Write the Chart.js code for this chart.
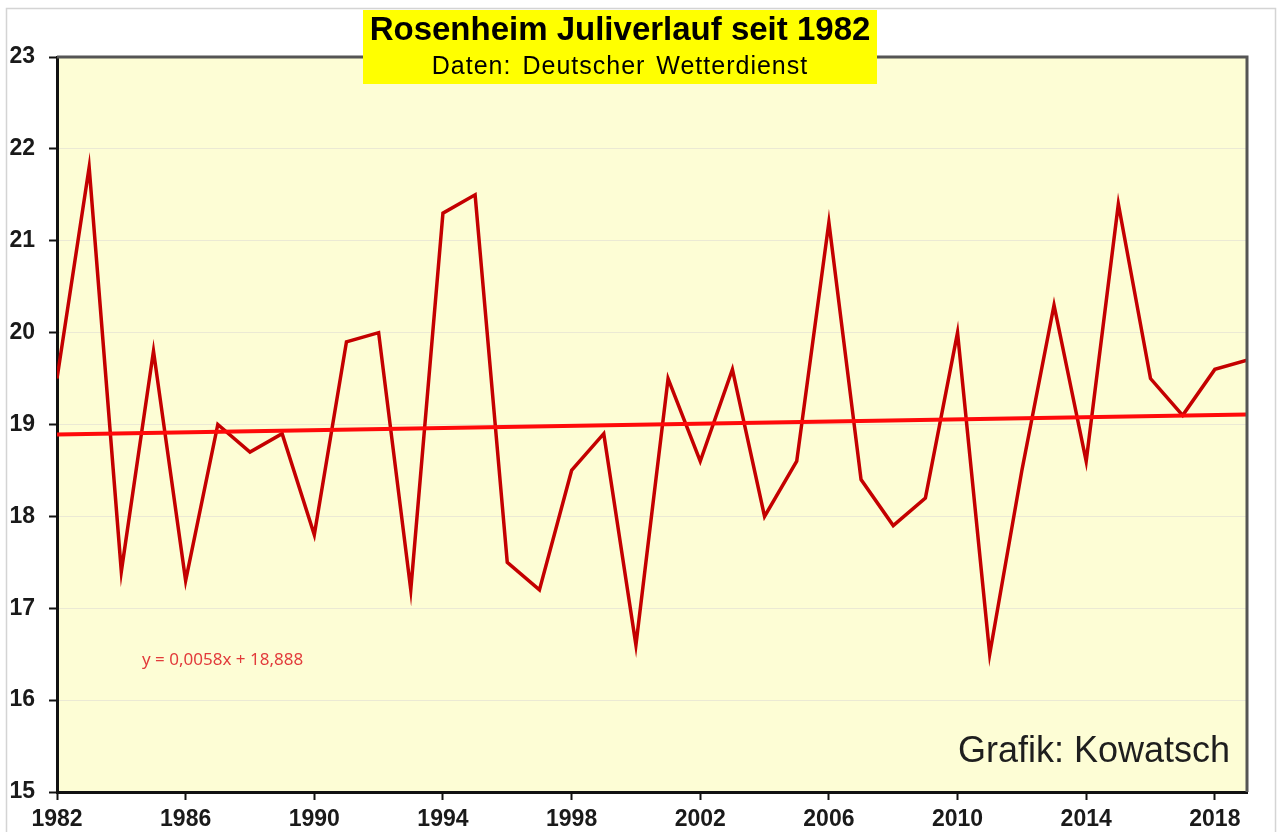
<!DOCTYPE html>
<html>
<head>
<meta charset="utf-8">
<title>Rosenheim Juliverlauf seit 1982</title>
<script src="https://cdn.jsdelivr.net/npm/chart.js@4.4.1/dist/chart.umd.min.js"></script>
<style>
  html, body { margin: 0; padding: 0; background: #ffffff; }
  #wrap { width: 1281px; height: 832px; position: relative; }
</style>
</head>
<body>
<div id="wrap"><canvas id="julyChart" width="1281" height="832"></canvas></div>
<script>
// July mean temperature, Rosenheim
const years = [1982, 1983, 1984, 1985, 1986, 1987, 1988, 1989, 1990, 1991,
               1992, 1993, 1994, 1995, 1996, 1997, 1998, 1999, 2000, 2001,
               2002, 2003, 2004, 2005, 2006, 2007, 2008, 2009, 2010, 2011,
               2012, 2013, 2014, 2015, 2016, 2017, 2018, 2019];
const temps = [19.5, 21.8, 17.4, 19.8, 17.3, 19.0, 18.7, 18.9, 17.8, 19.9,
               20.0, 17.2, 21.3, 21.5, 17.5, 17.2, 18.5, 18.9, 16.6, 19.5,
               18.6, 19.6, 18.0, 18.6, 21.2, 18.4, 17.9, 18.2, 20.0, 16.5,
               18.5, 20.3, 18.6, 21.4, 19.5, 19.1, 19.6, 19.7];

// linear trend (y = 0,0058x + 18,888), end points
const trendYears = [1982, 2019];
const trendTemps = [18.89, 19.11];

const xTickYears = [1982, 1986, 1990, 1994, 1998, 2002, 2006, 2010, 2014, 2018];
const yTickValues = [15, 16, 17, 18, 19, 20, 21, 22, 23];

const titleText = 'Rosenheim Juliverlauf seit 1982';
const subtitleText = 'Daten: Deutscher Wetterdienst';
const equationText = 'y = 0,0058x + 18,888';
const creditText = 'Grafik: Kowatsch';

const FONT = "'Liberation Sans', Arial, sans-serif";

const decorPlugin = {
    id: 'decor',
    beforeDraw(chart) {
        const { ctx, chartArea: a } = chart;
        ctx.save();
        // outer frame
        ctx.strokeStyle = '#d4d4d4';
        ctx.lineWidth = 1.5;
        ctx.strokeRect(6.5, 8.5, 1269, 840);
        // plot background
        ctx.fillStyle = '#fdfdd5';
        ctx.fillRect(a.left, a.top, a.right - a.left, a.bottom - a.top);
        ctx.restore();
    },
    afterDraw(chart) {
        const { ctx, chartArea: a } = chart;
        ctx.save();
        // top and right border
        ctx.strokeStyle = '#555555';
        ctx.lineWidth = 3;
        ctx.beginPath();
        ctx.moveTo(a.left, a.top);
        ctx.lineTo(a.right, a.top);
        ctx.lineTo(a.right, a.bottom);
        ctx.stroke();

        // equation label
        ctx.fillStyle = '#e23b3b';
        ctx.font = "17px 'Noto Sans', sans-serif";
        ctx.textAlign = 'left';
        ctx.textBaseline = 'middle';
        ctx.fillText(equationText, 142, 660);

        // credit
        ctx.fillStyle = '#1e1e1e';
        ctx.font = '36px ' + FONT;
        ctx.textAlign = 'right';
        ctx.fillText(creditText, 1230, 752);

        // title box
        ctx.fillStyle = '#ffff00';
        ctx.fillRect(363, 10, 514, 74);
        ctx.fillStyle = '#000000';
        ctx.textAlign = 'center';
        ctx.font = 'bold 33px ' + FONT;
        ctx.fillText(titleText, 620, 31);
        ctx.font = '25px ' + FONT;
        ctx.letterSpacing = '1px';
        ctx.wordSpacing = '3px';
        ctx.fillText(subtitleText, 620, 67);
        ctx.restore();
    }
};

const ctx = document.getElementById('julyChart');

new Chart(ctx, {
    type: 'line',
    data: {
        datasets: [
            {
                label: 'Juli',
                data: years.map((y, i) => ({ x: y, y: temps[i] })),
                borderColor: '#c40000',
                borderWidth: 3.5,
                pointRadius: 0,
                tension: 0,
                order: 2
            },
            {
                label: 'Trend',
                data: trendYears.map((y, i) => ({ x: y, y: trendTemps[i] })),
                borderColor: '#ff0a0a',
                borderWidth: 4,
                pointRadius: 0,
                tension: 0,
                order: 1
            }
        ]
    },
    options: {
        responsive: false,
        animation: false,
        layout: { padding: { top: 57, right: 34, bottom: 0, left: 0 } },
        plugins: {
            legend: { display: false },
            tooltip: { enabled: false }
        },
        scales: {
            x: {
                type: 'linear',
                min: 1982,
                max: 2019,
                afterBuildTicks(scale) {
                    scale.ticks = xTickYears.map(v => ({ value: v }));
                },
                afterFit(scale) { scale.height = 40; },
                ticks: {
                    color: '#1a1a1a',
                    font: { family: FONT, size: 23, weight: 'bold' },
                    padding: 6,
                    maxRotation: 0,
                    callback: v => String(v)
                },
                grid: {
                    drawOnChartArea: false,
                    drawTicks: true,
                    tickLength: 8,
                    tickColor: '#111111',
                    tickWidth: 2
                },
                border: { display: true, color: '#111111', width: 3 }
            },
            y: {
                min: 15,
                max: 23,
                afterBuildTicks(scale) {
                    scale.ticks = yTickValues.map(v => ({ value: v }));
                },
                afterFit(scale) { scale.width = 57; },
                ticks: {
                    color: '#1a1a1a',
                    font: { family: FONT, size: 23, weight: 'bold' },
                    padding: 14,
                    callback: v => String(v)
                },
                grid: {
                    color: '#ebe9d4',
                    lineWidth: 1,
                    tickLength: 8,
                    tickColor: '#111111',
                    tickWidth: 2
                },
                border: { display: true, color: '#111111', width: 3 }
            }
        }
    },
    plugins: [decorPlugin]
});
</script>
</body>
</html>
